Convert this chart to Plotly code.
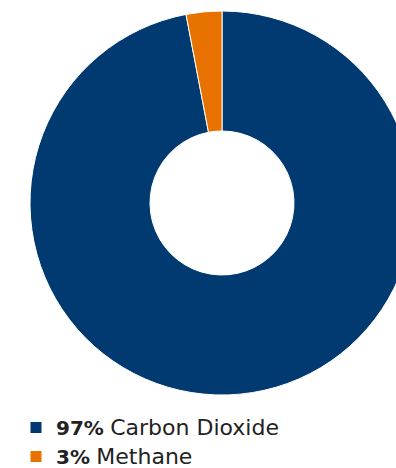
import plotly.graph_objects as go

labels = ["Carbon Dioxide", "Methane"]
values = [97, 3]
colors = ["#003a70", "#e87200"]

legend_text = [f"<b>{v}%</b> <span style='font-size:22px'>{l}</span>" for l, v in zip(labels, values)]

W, H = 444, 520

fig = go.Figure(go.Pie(
    labels=legend_text,
    values=values,
    sort=False,
    direction="clockwise",
    rotation=0,
    hole=0.375,
    marker=dict(colors=colors, line=dict(color="white", width=1)),
    textinfo="none",
    hoverinfo="label",
    domain=dict(x=[0, 1], y=[1 - 395 / H, 1 - 11 / H]),
))

fig.update_layout(
    width=W, height=H,
    margin=dict(l=0, r=0, t=0, b=0),
    paper_bgcolor="white",
    plot_bgcolor="white",
    showlegend=True,
    legend=dict(
        x=16 / W, y=1 - 408 / H, xanchor="left", yanchor="top",
        font=dict(family="DejaVu Sans, sans-serif", size=20, color="#222222"),
        tracegroupgap=0, itemwidth=30,
    ),
)

fig.write_html(
    "out.html",
    config={"displayModeBar": False},
    post_script="document.documentElement.style.overflow='hidden';document.body.style.overflow='hidden';document.body.style.margin='0';",
)
